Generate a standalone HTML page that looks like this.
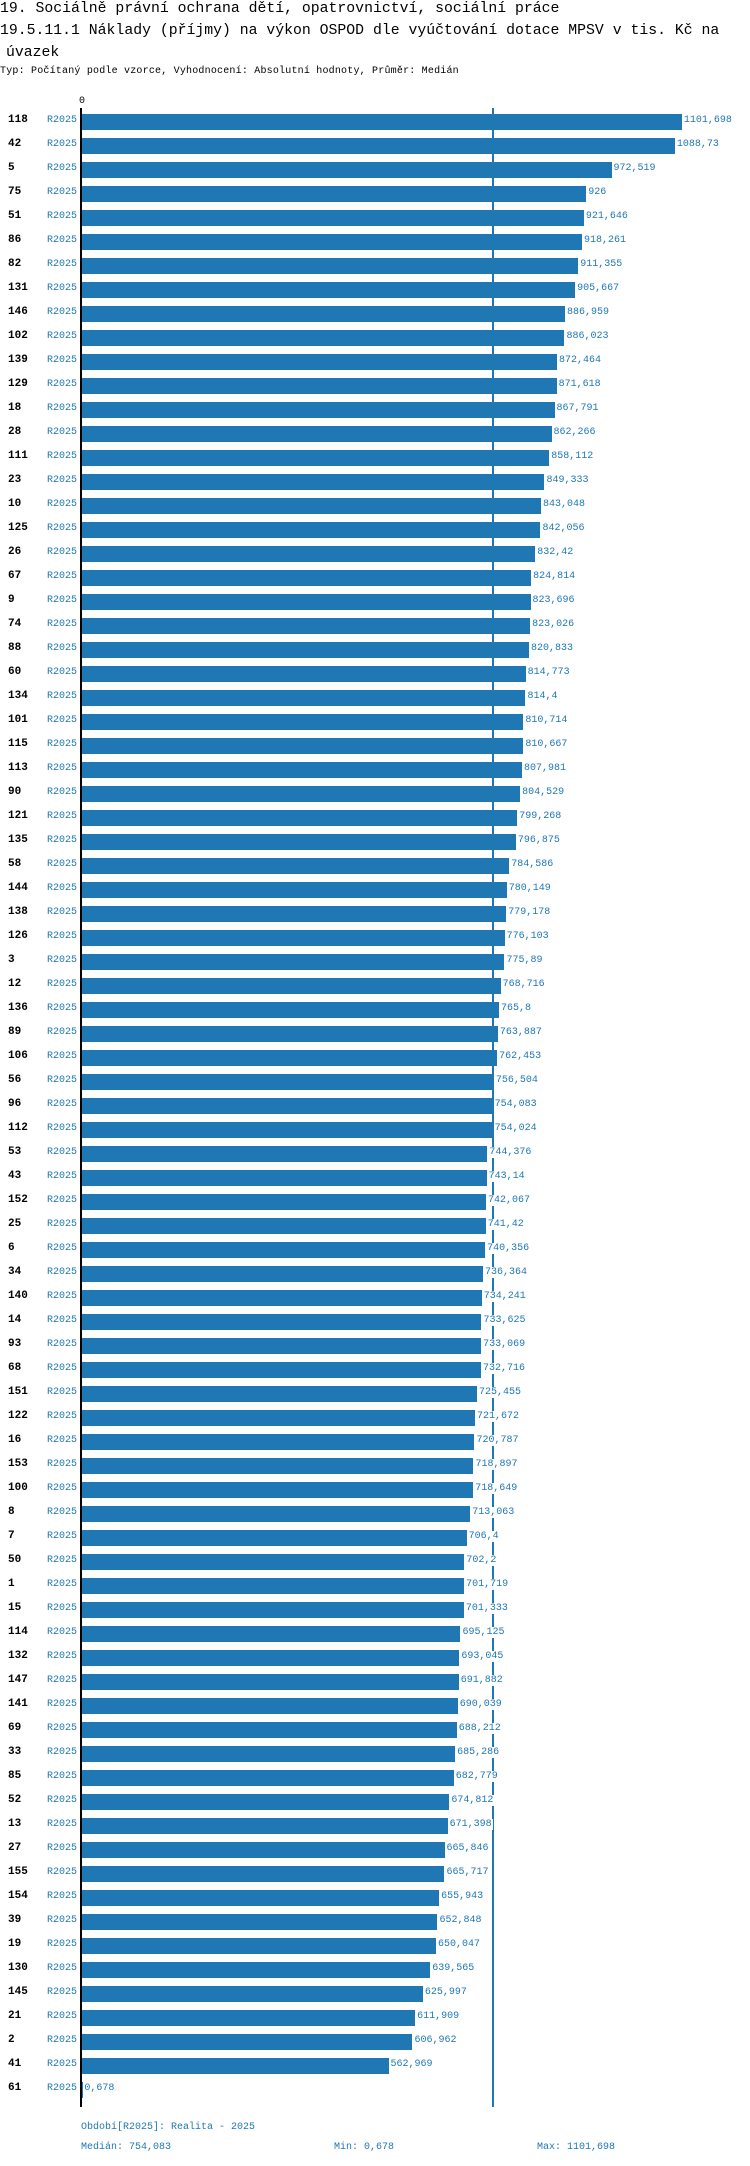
<!DOCTYPE html>
<html><head><meta charset="utf-8"><style>
body{margin:0;background:#fff;width:750px;height:2166px;position:relative;overflow:hidden;font-family:"Liberation Mono",monospace}
.t{position:absolute;left:0;white-space:nowrap;color:#000}
.h{font-size:14.8px}
.s{font-size:10px;letter-spacing:0.2px}
.ln{position:absolute;font-size:11px;font-weight:bold;left:8px;color:#000}
.pl{position:absolute;font-size:10px;color:#1f77b4;width:34px;text-align:right;left:43px}
.bar{position:absolute;background:#1f77b4;height:16px}
.vl{position:absolute;font-size:10px;color:#1f77b4;background:#fff;padding:0 1px}
.f{position:absolute;font-size:10px;color:#1f77b4;white-space:nowrap}
</style></head><body>
<div class="t h" style="top:1px">19. Sociálně právní ochrana dětí, opatrovnictví, sociální práce</div>
<div class="t h" style="top:23px">19.5.11.1 Náklady (příjmy) na výkon OSPOD dle vyúčtování dotace MPSV v tis. Kč na</div>
<div class="t h" style="top:45px;left:6px">úvazek</div>
<div class="t s" style="top:66px">Typ: Počítaný podle vzorce, Vyhodnocení: Absolutní hodnoty, Průměr: Medián</div>
<div id="chart"></div>
<div class="f" style="left:81px;top:2122px">Období[R2025]: Realita - 2025</div>
<div class="f" style="left:81px;top:2142px">Medián: 754,083</div>
<div class="f" style="left:334px;top:2142px">Min: 0,678</div>
<div class="f" style="left:537px;top:2142px">Max: 1101,698</div>
<script>
const categories=[118,42,5,75,51,86,82,131,146,102,139,129,18,28,111,23,10,125,26,67,9,74,88,60,134,101,115,113,90,121,135,58,144,138,126,3,12,136,89,106,56,96,112,53,43,152,25,6,34,140,14,93,68,151,122,16,153,100,8,7,50,1,15,114,132,147,141,69,33,85,52,13,27,155,154,39,19,130,145,21,2,41,61];
const values=[1101.698,1088.73,972.519,926,921.646,918.261,911.355,905.667,886.959,886.023,872.464,871.618,867.791,862.266,858.112,849.333,843.048,842.056,832.42,824.814,823.696,823.026,820.833,814.773,814.4,810.714,810.667,807.981,804.529,799.268,796.875,784.586,780.149,779.178,776.103,775.89,768.716,765.8,763.887,762.453,756.504,754.083,754.024,744.376,743.14,742.067,741.42,740.356,736.364,734.241,733.625,733.069,732.716,725.455,721.672,720.787,718.897,718.649,713.063,706.4,702.2,701.719,701.333,695.125,693.045,691.882,690.039,688.212,685.286,682.779,674.812,671.398,665.846,665.717,655.943,652.848,650.047,639.565,625.997,611.909,606.962,562.969,0.678];
const median=754.083;
const X0=82,K=0.5445,Y0=122,P=24;
const x=v=>X0+v*K, y=i=>Y0+i*P;
const fmt=v=>String(v).replace('.',',');
const c=document.getElementById('chart');
function mk(cls,style,txt){const d=document.createElement('div');d.className=cls;Object.assign(d.style,style);if(txt!==undefined)d.textContent=txt;c.appendChild(d);return d;}
const med=mk('', {position:'absolute',left:(x(median)-1)+'px',top:'108px',width:'2px',height:(2107-108)+'px',background:'#1f77b4'});


const ax=mk('', {position:'absolute',left:(X0-2)+'px',top:'108px',width:'2px',height:(2107-108)+'px',background:'#000'});


const z=mk('f',{left:(X0-3)+'px',top:'96px',color:'#000'},'0');


categories.forEach((cat,i)=>{
 const cy=y(i);
 const l=mk('ln',{top:(cy-8)+'px'},String(cat));
 
 
 const p=mk('pl',{top:(cy-7)+'px'},'R2025');
 
 
 const b=mk('bar',{left:X0+'px',top:(cy-8)+'px',width:Math.max(0,x(values[i])-X0)+'px'});
 
 
 const v=mk('vl',{left:(x(values[i])+1)+'px',top:(cy-7)+'px'},fmt(values[i]));
 
 
});
</script>
</body></html>
